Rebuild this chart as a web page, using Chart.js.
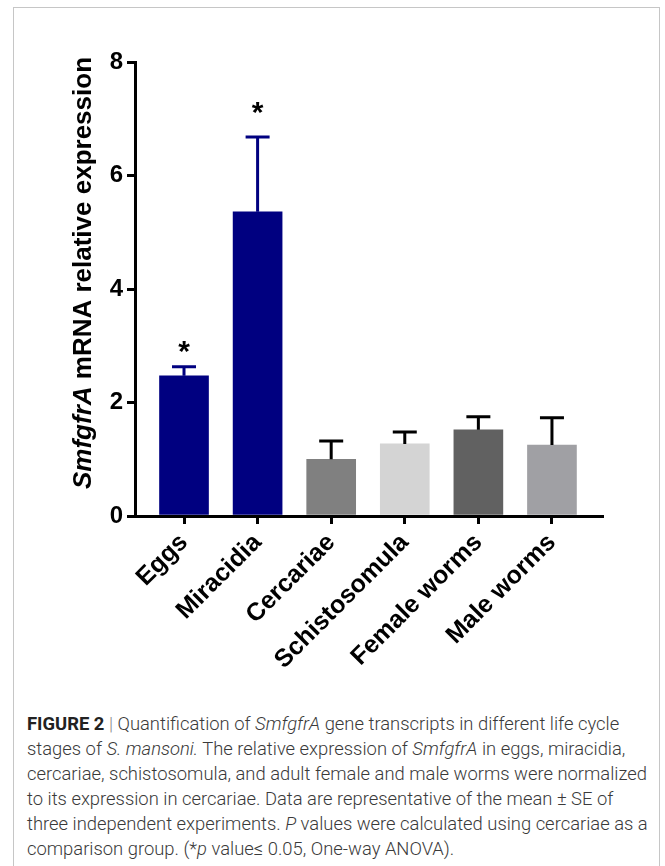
<!DOCTYPE html>
<html>
<head>
<meta charset="utf-8">
<script src="https://cdn.jsdelivr.net/npm/chart.js@4.4.1/dist/chart.umd.min.js"></script>
<style>
  html, body { margin: 0; padding: 0; background: #fff; }
  body { width: 665px; height: 866px; position: relative; overflow: hidden; }
  #frame {
    position: absolute; left: 13px; top: 7px; width: 647px; height: 900px;
    border: 1px solid #c6c6c6; box-sizing: border-box;
  }
  #wrap { position: absolute; left: 0; top: 0; width: 665px; height: 700px; }
  #caption {
    position: absolute; left: 27px; top: 711px; width: 630px;
    font-family: Roboto, "Liberation Sans", sans-serif; font-weight: 300;
    font-size: 18.4px; line-height: 25px; color: #3a3a3a; white-space: nowrap;
  }
  #caption b { font-weight: 700; color: #222; }
  #caption .sep { color: #888; }
</style>
</head>
<body>
<div id="frame"></div>
<div id="wrap"><canvas id="chart" width="665" height="700"></canvas></div>
<div id="caption">
<b>FIGURE 2</b> <span class="sep">|</span> Quantification of <i>SmfgfrA</i> gene transcripts in different life cycle<br>
stages of <i>S. mansoni.</i> The relative expression of <i>SmfgfrA</i> in eggs, miracidia,<br>
cercariae, schistosomula, and adult female and male worms were normalized<br>
to its expression in cercariae. Data are representative of the mean ± SE of<br>
three independent experiments. <i>P</i> values were calculated using cercariae as a<br>
comparison group. (*<i>p</i> value≤ 0.05, One-way ANOVA).
</div>
<script>
// Life-cycle stages and SmfgfrA relative expression (mean ± SE)
const categories = ['Eggs', 'Miracidia', 'Cercariae', 'Schistosomula', 'Female worms', 'Male worms'];
const means = [2.47, 5.36, 1.00, 1.27, 1.52, 1.25];
const errors = [0.16, 1.32, 0.32, 0.21, 0.23, 0.48];
const significant = [true, true, false, false, false, false];
const yTicks = [0, 2, 4, 6, 8];

const barColors = ['#000080', '#000080', '#808080', '#d4d4d4', '#616161', '#a0a0a4'];
const errColors = ['#000080', '#000080', '#000000', '#000000', '#000000', '#000000'];
const starGap = [14, 23, 18, 18, 18, 18]; // px between error cap and star centre

const AXIS_FONT = '"Liberation Sans", Arial, sans-serif';

// Error bars (upper arm only) and significance stars
const errorBars = {
  id: 'errorBars',
  afterDatasetsDraw(chart) {
    const { ctx, scales: { x, y } } = chart;
    ctx.save();
    means.forEach((m, i) => {
      const px = x.getPixelForValue(i);
      const top = y.getPixelForValue(m);
      const hi = y.getPixelForValue(m + errors[i]);
      ctx.strokeStyle = errColors[i];
      ctx.lineWidth = 3;
      ctx.beginPath();
      ctx.moveTo(px, top);
      ctx.lineTo(px, hi);
      ctx.moveTo(px - 12, hi);
      ctx.lineTo(px + 12, hi);
      ctx.stroke();
      if (significant[i]) {
        ctx.fillStyle = '#000';
        ctx.font = 'bold 30px ' + AXIS_FONT;
        ctx.textAlign = 'center';
        ctx.textBaseline = 'middle';
        ctx.fillText('*', px, hi - starGap[i]);
      }
    });
    ctx.restore();
  }
};

// Y axis title with italic gene name
const yTitle = {
  id: 'yTitle',
  afterDraw(chart) {
    const { ctx } = chart;
    const part1 = 'SmfgfrA';
    const part2 = ' mRNA relative expression';
    const f1 = 'italic bold 26px ' + AXIS_FONT;
    const f2 = 'bold 26px ' + AXIS_FONT;
    ctx.save();
    ctx.font = f1; const w1 = ctx.measureText(part1).width;
    ctx.font = f2; const w2 = ctx.measureText(part2).width;
    const total = w1 + w2;
    ctx.translate(91, 273);
    ctx.rotate(-Math.PI / 2);
    ctx.fillStyle = '#000';
    ctx.textBaseline = 'alphabetic';
    ctx.textAlign = 'left';
    ctx.font = f1; ctx.fillText(part1, -total / 2, 0);
    ctx.font = f2; ctx.fillText(part2, -total / 2 + w1, 0);
    ctx.restore();
  }
};

new Chart(document.getElementById('chart'), {
  type: 'bar',
  data: {
    datasets: [{
      data: categories.map((c, i) => ({ x: i, y: means[i] })),
      backgroundColor: barColors,
      borderWidth: 0,
      barThickness: 49
    }]
  },
  options: {
    responsive: false,
    animation: false,
    events: [],
    layout: { padding: { left: 0, top: 62, right: 63, bottom: 0 } },
    plugins: { legend: { display: false }, tooltip: { enabled: false } },
    scales: {
      x: {
        type: 'linear',
        offset: false,
        min: -0.666,
        max: 5.68,
        afterBuildTicks(scale) { scale.ticks = categories.map((c, i) => ({ value: i })); },
        afterFit(scale) { scale.height = 700 - 516; scale.paddingLeft = 0; scale.paddingRight = 0; },
        ticks: {
          autoSkip: false,
          minRotation: 45,
          maxRotation: 45,
          padding: 4,
          color: '#000',
          font: { family: AXIS_FONT, weight: 'bold', size: 25 },
          callback: (v) => categories[v] ?? ''
        },
        grid: { offset: false, drawOnChartArea: false, drawTicks: true, tickLength: 8, lineWidth: 3, color: '#000' },
        border: { display: true, color: '#000', width: 3 }
      },
      y: {
        min: 0,
        max: 8,
        afterBuildTicks(scale) { scale.ticks = yTicks.map(v => ({ value: v })); },
        afterFit(scale) { scale.width = 135; },
        ticks: {
          padding: 4,
          color: '#000',
          font: { family: AXIS_FONT, weight: 'bold', size: 24 }
        },
        grid: { drawOnChartArea: false, drawTicks: true, tickLength: 8, lineWidth: 3, color: '#000' },
        border: { display: true, color: '#000', width: 3 }
      }
    }
  },
  plugins: [errorBars, yTitle]
});
</script>
</body>
</html>
